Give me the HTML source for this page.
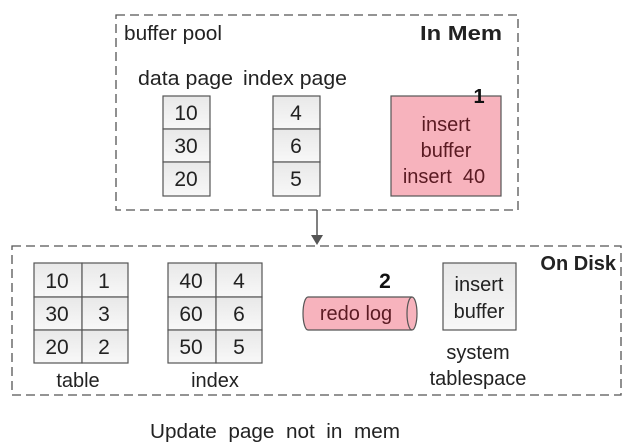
<!DOCTYPE html>
<html><head><meta charset="utf-8"><style>
html,body{margin:0;padding:0;background:#fff;}
svg{display:block;font-family:"Liberation Sans",sans-serif;}
</style></head><body>
<svg width="638" height="446" viewBox="0 0 638 446" xmlns="http://www.w3.org/2000/svg">
<defs>
<linearGradient id="g" x1="0" y1="0" x2="0" y2="1"><stop offset="0" stop-color="#e8e8e8"/><stop offset="1" stop-color="#f8f8f8"/></linearGradient>
</defs>
<g fill="none" stroke="#555" stroke-width="1.3" stroke-dasharray="9,5">
<rect x="116" y="15" width="402" height="195"/>
<rect x="12" y="246" width="609" height="149"/>
</g>
<line x1="317" y1="210" x2="317" y2="236" stroke="#555" stroke-width="1.5"/>
<polygon points="311,235 323,235 317,245" fill="#555"/>
<g font-size="20" fill="#222">
<text x="124" y="40" textLength="98" lengthAdjust="spacingAndGlyphs">buffer pool</text>
<text x="420" y="40" font-weight="bold" textLength="82" lengthAdjust="spacingAndGlyphs">In Mem</text>
<text x="138" y="85" textLength="95" lengthAdjust="spacingAndGlyphs">data page</text>
<text x="243" y="85" textLength="104" lengthAdjust="spacingAndGlyphs">index page</text>
</g>
<g stroke="#555" stroke-width="1.2" fill="url(#g)">
<rect x="163" y="96" width="47" height="33"/><rect x="163" y="129" width="47" height="33"/><rect x="163" y="162" width="47" height="34"/>
<rect x="273" y="96" width="47" height="33"/><rect x="273" y="129" width="47" height="33"/><rect x="273" y="162" width="47" height="34"/>
<rect x="34" y="263" width="48" height="34"/><rect x="82" y="263" width="46" height="34"/>
<rect x="34" y="297" width="48" height="33"/><rect x="82" y="297" width="46" height="33"/>
<rect x="34" y="330" width="48" height="33"/><rect x="82" y="330" width="46" height="33"/>
<rect x="168" y="263" width="48" height="34"/><rect x="216" y="263" width="46" height="34"/>
<rect x="168" y="297" width="48" height="33"/><rect x="216" y="297" width="46" height="33"/>
<rect x="168" y="330" width="48" height="33"/><rect x="216" y="330" width="46" height="33"/>
<rect x="443" y="263" width="73" height="67"/>
</g>
<g font-size="21" fill="#222" text-anchor="middle">
<text x="186" y="120">10</text><text x="186" y="153">30</text><text x="186" y="186">20</text>
<text x="296" y="120">4</text><text x="296" y="153">6</text><text x="296" y="186">5</text>
<text x="57" y="288">10</text><text x="104" y="288">1</text>
<text x="57" y="321">30</text><text x="104" y="321">3</text>
<text x="57" y="354">20</text><text x="104" y="354">2</text>
<text x="191" y="288">40</text><text x="239" y="288">4</text>
<text x="191" y="321">60</text><text x="239" y="321">6</text>
<text x="191" y="354">50</text><text x="239" y="354">5</text>
<text x="479" y="291" font-size="20">insert</text>
<text x="479" y="318" font-size="20">buffer</text>
<text x="78" y="387" font-size="20">table</text>
<text x="215" y="387" font-size="20">index</text>
<text x="478" y="359" font-size="20">system</text>
<text x="478" y="385" font-size="20">tablespace</text>
</g>
<rect x="391" y="96" width="110" height="100" fill="#f7b3bd" stroke="#555" stroke-width="1.2"/>
<g font-size="20" fill="#5a1a22" text-anchor="middle">
<text x="446" y="131">insert</text><text x="446" y="157">buffer</text><text x="444" y="183">insert&#160;&#160;40</text>
</g>
<text x="479" y="103" font-size="20" font-weight="bold" fill="#111" text-anchor="middle">1</text>
<path d="M308,297 L412,297 A5,16.5 0 0 1 412,330 L308,330 A5,16.5 0 0 1 308,297 Z" fill="#f7b3bd" stroke="#555" stroke-width="1.2"/>
<path d="M412,297 A5,16.5 0 0 0 412,330" fill="none" stroke="#555" stroke-width="1.2"/>
<text x="356" y="320" font-size="20" fill="#5a1a22" text-anchor="middle">redo log</text>
<text x="385" y="288" font-size="21" font-weight="bold" fill="#111" text-anchor="middle">2</text>
<text x="616" y="270" font-size="20" font-weight="bold" fill="#222" text-anchor="end">On Disk</text>
<text x="150" y="438" font-size="20" fill="#222" textLength="250" lengthAdjust="spacingAndGlyphs">Update&#160;&#160;page&#160;&#160;not&#160;&#160;in&#160;&#160;mem</text>
</svg>
</body></html>
